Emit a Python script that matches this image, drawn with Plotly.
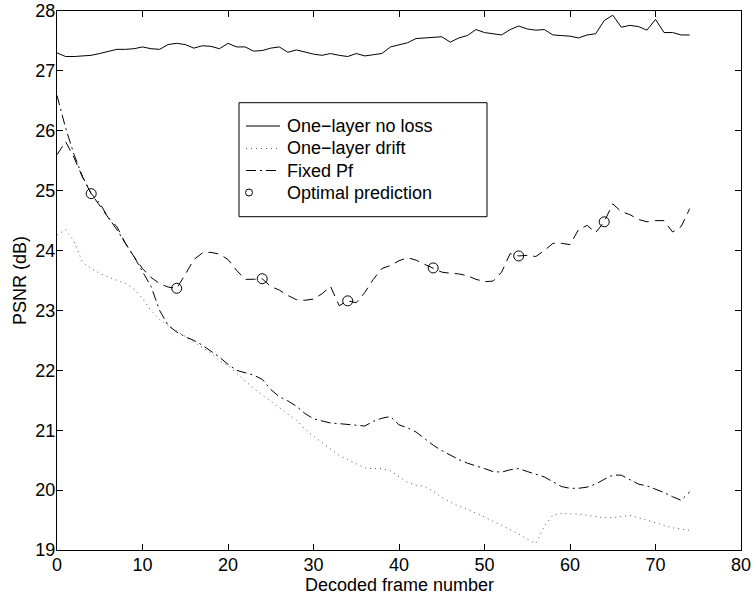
import plotly.graph_objects as go

frames = list(range(0, 75))

no_loss = [27.30, 27.24, 27.24, 27.25, 27.26, 27.29, 27.32, 27.36, 27.36, 27.37,
           27.40, 27.37, 27.36, 27.44, 27.46, 27.44, 27.38, 27.42, 27.41, 27.37,
           27.46, 27.40, 27.40, 27.33, 27.34, 27.38, 27.40, 27.31, 27.35, 27.31,
           27.28, 27.26, 27.29, 27.26, 27.24, 27.29, 27.25, 27.27, 27.29, 27.40,
           27.43, 27.47, 27.54, 27.55, 27.56, 27.57, 27.48, 27.55, 27.59, 27.69,
           27.64, 27.62, 27.60, 27.69, 27.75, 27.70, 27.68, 27.69, 27.60, 27.59,
           27.58, 27.55, 27.60, 27.62, 27.84, 27.93, 27.73, 27.76, 27.74, 27.68,
           27.86, 27.64, 27.64, 27.60, 27.60]

drift = [24.26, 24.35, 24.15, 23.80, 23.70, 23.62, 23.56, 23.50, 23.45, 23.36,
         23.20, 23.00, 22.85, 22.75, 22.66, 22.57, 22.47, 22.39, 22.29, 22.16,
         22.08, 21.95, 21.82, 21.70, 21.59, 21.48, 21.38, 21.27, 21.17, 21.02,
         20.90, 20.79, 20.68, 20.58, 20.51, 20.44, 20.37, 20.36, 20.36, 20.32,
         20.22, 20.13, 20.08, 20.06, 19.98, 19.88, 19.80, 19.73, 19.68, 19.62,
         19.55, 19.48, 19.41, 19.35, 19.27, 19.18, 19.11, 19.40, 19.58, 19.61,
         19.61, 19.60, 19.58, 19.56, 19.54, 19.54, 19.56, 19.58, 19.54, 19.50,
         19.45, 19.41, 19.37, 19.35, 19.33]

fixed_pf = [26.59, 26.05, 25.60, 25.23, 24.95, 24.79, 24.55, 24.35, 24.12, 23.90,
            23.65, 23.40, 23.00, 22.75, 22.64, 22.56, 22.50, 22.42, 22.32, 22.22,
            22.10, 22.00, 21.96, 21.92, 21.85, 21.68, 21.56, 21.49, 21.40, 21.28,
            21.19, 21.15, 21.12, 21.11, 21.10, 21.09, 21.07, 21.15, 21.20, 21.23,
            21.09, 21.04, 20.97, 20.86, 20.75, 20.66, 20.58, 20.51, 20.45, 20.41,
            20.36, 20.31, 20.30, 20.34, 20.36, 20.31, 20.27, 20.22, 20.14, 20.06,
            20.03, 20.03, 20.05, 20.10, 20.18, 20.25, 20.25, 20.18, 20.10, 20.07,
            20.02, 19.96, 19.89, 19.83, 19.97]

optimal = [25.60, 25.82, 25.55, 25.22, 24.95, 24.75, 24.55, 24.40, 24.12, 23.90,
           23.70, 23.55, 23.45, 23.39, 23.37, 23.60, 23.85, 23.96, 23.97, 23.94,
           23.85, 23.67, 23.52, 23.52, 23.53, 23.40, 23.34, 23.25, 23.18, 23.17,
           23.19, 23.28, 23.40, 23.08, 23.16, 23.13, 23.30, 23.52, 23.70, 23.75,
           23.83, 23.88, 23.84, 23.77, 23.71, 23.64, 23.62, 23.61, 23.58, 23.52,
           23.48, 23.49, 23.64, 23.95, 23.91, 23.92, 23.90, 24.00, 24.12, 24.12,
           24.10, 24.35, 24.42, 24.30, 24.48, 24.78, 24.65, 24.60, 24.52, 24.48,
           24.50, 24.50, 24.31, 24.40, 24.70]

marker_frames = [4, 14, 24, 34, 44, 54, 64]
marker_values = [24.95, 23.37, 23.53, 23.16, 23.71, 23.91, 24.48]

x_ticks = [0, 10, 20, 30, 40, 50, 60, 70, 80]
y_ticks = [19, 20, 21, 22, 23, 24, 25, 26, 27, 28]

legend_labels = ["One\u2212layer no loss", "One\u2212layer drift", "Fixed Pf", "Optimal prediction"]
x_title = "Decoded frame number"
y_title = "PSNR (dB)"

FONT = "Liberation Sans, Arial, Helvetica, sans-serif"
FS = 18

# the page body margin is removed by a post script, so the figure fills the window
OFF = 0
W, H = 753, 594
ML, MR, MT, MB = 57, 12, 11, 44
PW, PH = W - ML - MR, H - MT - MB


def px(X):
    """screen x pixel -> paper coordinate"""
    return (X - OFF - ML) / PW


def py(Y):
    """screen y pixel -> paper coordinate"""
    return (H - MB - (Y - OFF)) / PH


DRIFT_DASH = "1px,4px"
DASHDOT = "10px,4px,2px,4px"
DASHED = "10px,6px"

fig = go.Figure()
fig.add_trace(go.Scatter(x=frames, y=no_loss, mode="lines", name=legend_labels[0],
                         line=dict(color="black", width=1)))
fig.add_trace(go.Scatter(x=frames, y=drift, mode="lines", name=legend_labels[1],
                         line=dict(color="#555555", width=1, dash=DRIFT_DASH)))
fig.add_trace(go.Scatter(x=frames, y=fixed_pf, mode="lines", name=legend_labels[2],
                         line=dict(color="black", width=1, dash=DASHDOT)))
fig.add_trace(go.Scatter(x=frames, y=optimal, mode="lines", showlegend=False,
                         line=dict(color="black", width=1, dash=DASHED)))
fig.add_trace(go.Scatter(x=marker_frames, y=marker_values, mode="markers", name=legend_labels[3],
                         marker=dict(symbol="circle-open", size=10, color="black",
                                     line=dict(color="black", width=1))))

# legend box drawn manually to match the original layout
box_x0, box_x1, box_y0, box_y1 = 239, 487, 102.7, 216.7
fig.add_shape(type="rect", xref="paper", yref="paper",
              x0=px(box_x0), x1=px(box_x1), y0=py(box_y1), y1=py(box_y0),
              line=dict(color="black", width=1), fillcolor="white", layer="above")

row_y = [126, 148.5, 170.5, 192.5]
samples = [dict(color="black", width=1),
           dict(color="#555555", width=1, dash=DRIFT_DASH),
           dict(color="black", width=1, dash=DASHDOT)]
for i in range(3):
    fig.add_shape(type="line", xref="paper", yref="paper",
                  x0=px(246), x1=px(280), y0=py(row_y[i]), y1=py(row_y[i]),
                  line=samples[i], layer="above")
fig.add_shape(type="circle", xref="paper", yref="paper",
              xsizemode="pixel", ysizemode="pixel",
              xanchor=px(249), yanchor=py(row_y[3]),
              x0=-3.5, x1=3.5, y0=-3.5, y1=3.5,
              line=dict(color="black", width=1), layer="above")
for i, lab in enumerate(legend_labels):
    fig.add_annotation(text=lab, xref="paper", yref="paper",
                       x=px(285), y=py(row_y[i]), xanchor="left", yanchor="middle",
                       showarrow=False, font=dict(family=FONT, size=FS, color="black"))

# axis titles
fig.add_annotation(text=x_title, xref="paper", yref="paper",
                   x=0.5, y=py(584.5), xanchor="center", yanchor="middle",
                   showarrow=False, font=dict(family=FONT, size=FS, color="black"))
fig.add_annotation(text=y_title, xref="paper", yref="paper", textangle=-90,
                   x=px(19.5), y=0.5, xanchor="center", yanchor="middle",
                   showarrow=False, font=dict(family=FONT, size=FS, color="black"))

axis_common = dict(showline=True, linecolor="black", linewidth=1, mirror="ticks",
                   ticks="inside", ticklen=6, tickcolor="black", tickwidth=1,
                   showgrid=False, zeroline=False, automargin=False,
                   ticklabeloverflow="allow",
                   tickfont=dict(family=FONT, size=FS, color="black"))

fig.update_layout(
    width=W, height=H,
    margin=dict(l=ML, r=MR, t=MT, b=MB),
    paper_bgcolor="white", plot_bgcolor="white",
    font=dict(family=FONT, size=FS, color="black"),
    xaxis=dict(range=[0, 80], tickvals=x_ticks, ticklabelstandoff=-2, **axis_common),
    yaxis=dict(range=[19, 28], tickvals=y_ticks, ticklabelstandoff=-3, **axis_common),
    showlegend=False,
)

fig.write_html("out.html",
               config={"displayModeBar": False},
               post_script="document.body.style.margin='0';document.body.style.padding='0';")
